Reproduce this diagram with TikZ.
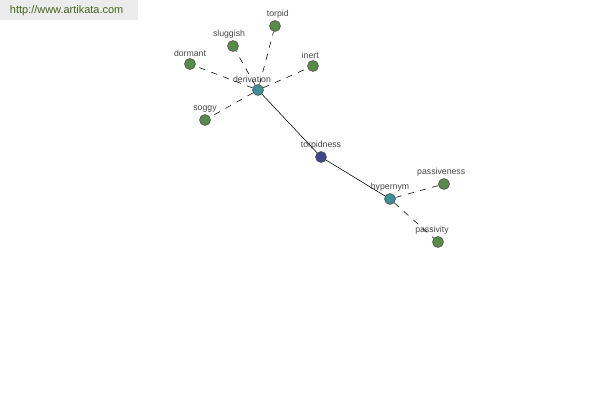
\documentclass[tikz,border=0pt]{standalone}
\usepackage{fontspec}
\setmainfont{Liberation Sans}
\usepackage{tikz}
\usetikzlibrary{positioning}
\usepackage{xcolor}
\definecolor{LeafGreen}{RGB}{84,140,72}
\definecolor{RelTeal}{RGB}{62,142,150}
\definecolor{RootBlue}{RGB}{62,70,140}
\definecolor{LabelGray}{RGB}{70,70,70}
\definecolor{BannerGray}{RGB}{236,236,236}
\definecolor{BannerText}{RGB}{70,100,30}

\begin{document}
\begin{tikzpicture}[x=0.025cm,y=-0.025cm,
dot/.style={circle,draw=black!70,line width=0.4pt,minimum size=0.275cm,inner sep=0pt},
leaf/.style={dot,fill=LeafGreen},
rel/.style={dot,fill=RelTeal},
root/.style={dot,fill=RootBlue},
lbl/.style={font=\fontsize{6.2}{7}\selectfont,text=LabelGray,inner sep=0pt},
link/.style={draw=black,line width=0.4pt},
dlink/.style={link,dash pattern=on 4.5pt off 4.5pt}
]
\useasboundingbox (0,0) rectangle (600,400);
\fill[BannerGray] (0,0) rectangle (138,20);
\node[font=\fontsize{7.8}{9}\selectfont,text=BannerText,anchor=west] (site) at (5,11) {http://www.artikata.com};

\node[root,label={[lbl,label distance=1.2pt]above:torpidness}] (tp) at (321,157) {};
\node[rel,label={[lbl,label distance=1.2pt,xshift=-0.15cm]above:derivation}] (der) at (258,90) {};
\node[rel,label={[lbl,label distance=1.2pt]above:hypernym}] (hyp) at (390,199) {};

\node[leaf,label={[lbl,label distance=1.2pt,xshift=0.07cm]above:torpid}] (torpid) at (275,26) {};
\node[leaf,label={[lbl,label distance=1.2pt,xshift=-0.1cm]above:sluggish}] (slug) at (233,46) {};
\node[leaf,label={[lbl,label distance=1.2pt]above:dormant}] (dorm) at (190,64) {};
\node[leaf,label={[lbl,label distance=1.2pt,xshift=-0.07cm]above:inert}] (inert) at (313,66) {};
\node[leaf,label={[lbl,label distance=1.2pt]above:soggy}] (soggy) at (205,120) {};
\node[leaf,label={[lbl,label distance=1.2pt,xshift=-0.07cm]above:passiveness}] (pven) at (444,184) {};
\node[leaf,label={[lbl,label distance=1.2pt,xshift=-0.15cm]above:passivity}] (pvity) at (438,242) {};

\draw[link] (tp) -- (der);
\draw[link] (tp) -- (hyp);
\foreach \n in {torpid,slug,dorm,inert,soggy}
  \draw[dlink] (der) -- (\n);
\draw[dlink] (hyp) -- (pven);
\draw[dlink] (hyp) -- (pvity);
\end{tikzpicture}
\end{document}
